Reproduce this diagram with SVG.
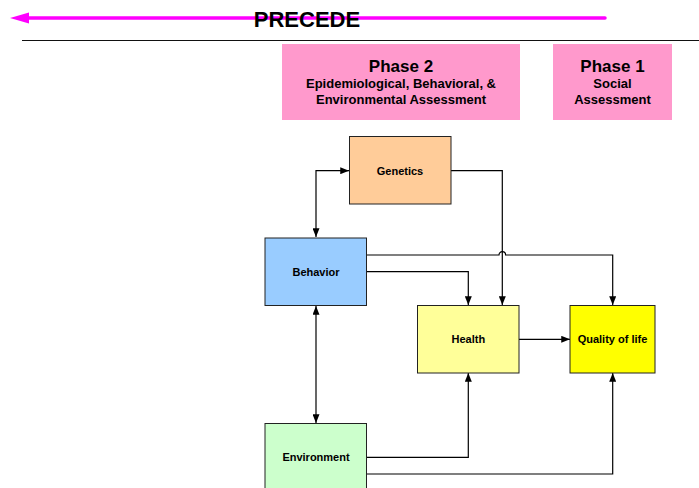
<svg xmlns="http://www.w3.org/2000/svg" width="699" height="488" viewBox="0 0 699 488">
<style>
text{font-family:"Liberation Sans",Arial,sans-serif;font-weight:bold;fill:#000;text-anchor:middle}
.node{stroke:#222;stroke-width:1}
.lbl{font-size:11px}
.conn path{fill:none;stroke:#000;stroke-width:1.2}
.ph{fill:#FF99CC}
.t1{font-size:17px}
.t2{font-size:13px}
</style>
<defs>
<marker id="ah" viewBox="0 0 10 8" refX="10" refY="4" markerWidth="9" markerHeight="7" markerUnits="userSpaceOnUse" orient="auto-start-reverse">
<path d="M0,0 L10,4 L0,8 z" fill="#000"/>
</marker>
</defs>
<g id="header">
<line x1="28" y1="18" x2="605" y2="18" stroke="#FF00FF" stroke-width="3.5" stroke-linecap="round"/>
<path d="M10,18 L29,12.5 L29,23.5 z" fill="#FF00FF"/>
<text x="307" y="27" style="font-size:22px">PRECEDE</text>
<line x1="22" y1="40.5" x2="699" y2="40.5" stroke="#111" stroke-width="1"/>
</g>
<g id="phase2">
<rect class="ph" x="282" y="44" width="238" height="76"/>
<text class="t1" x="401" y="71.5">Phase 2</text>
<text class="t2" x="401" y="88">Epidemiological, Behavioral, &amp;</text>
<text class="t2" x="401" y="104">Environmental Assessment</text>
</g>
<g id="phase1">
<rect class="ph" x="553" y="44" width="119" height="76"/>
<text class="t1" x="612.5" y="71.5">Phase 1</text>
<text class="t2" x="612.5" y="88">Social</text>
<text class="t2" x="612.5" y="104">Assessment</text>
</g>
<g class="conn">
<path d="M316,237 V170.7 H349" marker-start="url(#ah)" marker-end="url(#ah)"/>
<path d="M451,170.7 H502.3 V305" marker-end="url(#ah)"/>
<path d="M366.5,255 H499 A3.3,3.3 0 0 1 505.6,255 H612.7 V305" marker-end="url(#ah)"/>
<path d="M366.5,271.7 H468.3 V305" marker-end="url(#ah)"/>
<path d="M519,339.3 H570" marker-end="url(#ah)"/>
<path d="M316,306 V423" marker-start="url(#ah)" marker-end="url(#ah)"/>
<path d="M366.5,457.3 H468.3 V373" marker-end="url(#ah)"/>
<path d="M366.5,474 H612.7 V373" marker-end="url(#ah)"/>
</g>
<g id="genetics">
<rect class="node" x="349.5" y="136.5" width="101.5" height="67.5" fill="#FFCC99"/>
<text class="lbl" x="400" y="174.5">Genetics</text>
</g>
<g id="behavior">
<rect class="node" x="265" y="238" width="101.5" height="67.5" fill="#99CCFF"/>
<text class="lbl" x="316" y="275.5">Behavior</text>
</g>
<g id="health">
<rect class="node" x="417.5" y="305.5" width="101.5" height="67.5" fill="#FFFF99"/>
<text class="lbl" x="468.3" y="343">Health</text>
</g>
<g id="quality">
<rect class="node" x="570" y="305.5" width="85" height="67.5" fill="#FFFF00"/>
<text class="lbl" x="612.5" y="343">Quality of life</text>
</g>
<g id="environment">
<rect class="node" x="265" y="423.5" width="101.5" height="70" fill="#CCFFCC"/>
<text class="lbl" x="316" y="461">Environment</text>
</g>
</svg>
